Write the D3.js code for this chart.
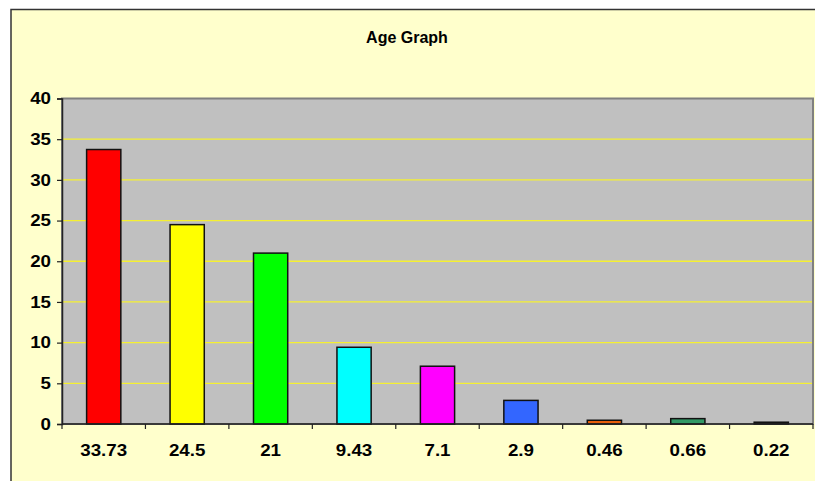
<meta charset="utf-8">
<head>
    <script type="text/javascript" src="https://cdn.jsdelivr.net/npm/d3@7/dist/d3.min.js"></script>
    <style>
        body { margin: 0; background: #ffffff; }
        text { font-family: "Liberation Sans", Arial, sans-serif; font-weight: bold; }
    </style>
</head>
<body>
    <svg width=815 height=481></svg>
</body>
<script>
    let categories = ["33.73", "24.5", "21", "9.43", "7.1", "2.9", "0.46", "0.66", "0.22"];
    let values = [33.73, 24.5, 21, 9.43, 7.1, 2.9, 0.46, 0.66, 0.22];
    let colors = ["#ff0000", "#ffff00", "#00ff00", "#00ffff", "#ff00ff", "#3366ff", "#e8600c", "#339966", "#1a1a1a"];
    let yTicks = [0, 5, 10, 15, 20, 25, 30, 35, 40];

    let plot = { left: 62, top: 98.5, right: 813, bottom: 424 };

    let svg = d3.select('svg');

    // chart frame
    svg.append("rect")
        .attr("x", 11)
        .attr("y", 9.5)
        .attr("width", 900)
        .attr("height", 600)
        .attr("style", "fill: #ffffcc; stroke: #333333; stroke-width: 1.5");

    svg.append("text")
        .attr("x", 407)
        .attr("y", 43)
        .attr("text-anchor", "middle")
        .attr("font-size", 16)
        .attr("fill", "#000")
        .text("Age Graph");

    let x = d3.scaleBand()
        .domain(categories)
        .range([plot.left, plot.right])
        .paddingInner(0.59)
        .paddingOuter(0.295);

    let xEdges = d3.scaleBand()
        .domain(categories)
        .range([plot.left, plot.right])
        .padding(0);

    let y = d3.scaleLinear()
        .domain([0, 40])
        .range([plot.bottom, plot.top]);

    // plot area
    svg.append("rect")
        .attr("x", plot.left)
        .attr("y", plot.top)
        .attr("width", plot.right - plot.left)
        .attr("height", plot.bottom - plot.top)
        .attr("style", "fill: #c0c0c0; stroke: #808080; stroke-width: 2");

    // grid lines
    svg.append("g")
        .selectAll("line")
        .data(yTicks.filter(function (d) { return d > 0 && d < 40 }))
        .enter()
        .append("line")
        .attr("x1", plot.left)
        .attr("x2", plot.right - 1)
        .attr("y1", function (d) { return y(d) })
        .attr("y2", function (d) { return y(d) })
        .attr("style", "stroke: #f5f032; stroke-width: 1.3");

    // bars
    svg.append("g")
        .selectAll("rect")
        .data(values)
        .enter()
        .append("rect")
        .attr("x", function (d, i) { return x(categories[i]) })
        .attr("y", function (d) { return y(d) })
        .attr("width", x.bandwidth())
        .attr("height", function (d) { return plot.bottom - y(d) })
        .attr("fill", function (d, i) { return colors[i] })
        .attr("style", "stroke: #111111; stroke-width: 1.5");

    // y axis
    let yAxis = d3.axisLeft(y).tickValues(yTicks).tickSize(5).tickPadding(6);
    let gy = svg.append("g")
        .attr("transform", `translate(${plot.left}, 0)`)
        .call(yAxis);
    gy.select(".domain").attr("stroke", "#222").attr("stroke-width", 1.5);
    gy.selectAll(".tick line").attr("stroke", "#222").attr("stroke-width", 1.2);
    gy.selectAll("text")
        .attr("font-size", 16)
        .attr("fill", "#000")
        .attr("font-family", "Liberation Sans, Arial, sans-serif");

    // x axis: ticks on category boundaries, labels centered
    let gx = svg.append("g")
        .attr("transform", `translate(0, ${plot.bottom})`);
    gx.append("line")
        .attr("x1", plot.left)
        .attr("x2", plot.right)
        .attr("style", "stroke: #222; stroke-width: 1.5");
    gx.selectAll(".edge")
        .data(categories.concat(["end"]))
        .enter()
        .append("line")
        .attr("class", "edge")
        .attr("x1", function (d, i) { return i < categories.length ? xEdges(d) : plot.right })
        .attr("x2", function (d, i) { return i < categories.length ? xEdges(d) : plot.right })
        .attr("y1", 0)
        .attr("y2", 5)
        .attr("style", "stroke: #222; stroke-width: 1.2");
    gx.selectAll(".lab")
        .data(categories)
        .enter()
        .append("text")
        .attr("class", "lab")
        .attr("x", function (d) { return xEdges(d) + xEdges.bandwidth() / 2 })
        .attr("y", 32)
        .attr("text-anchor", "middle")
        .attr("font-size", 16)
        .attr("fill", "#000")
        .text(function (d) { return d });

    // the reference's axis labels are a bit wider than plain bold Arial
    svg.selectAll(".lab, .tick text").each(function () {
        let w = this.getComputedTextLength();
        d3.select(this)
            .attr("textLength", w * 1.17)
            .attr("lengthAdjust", "spacingAndGlyphs");
    });
</script>
